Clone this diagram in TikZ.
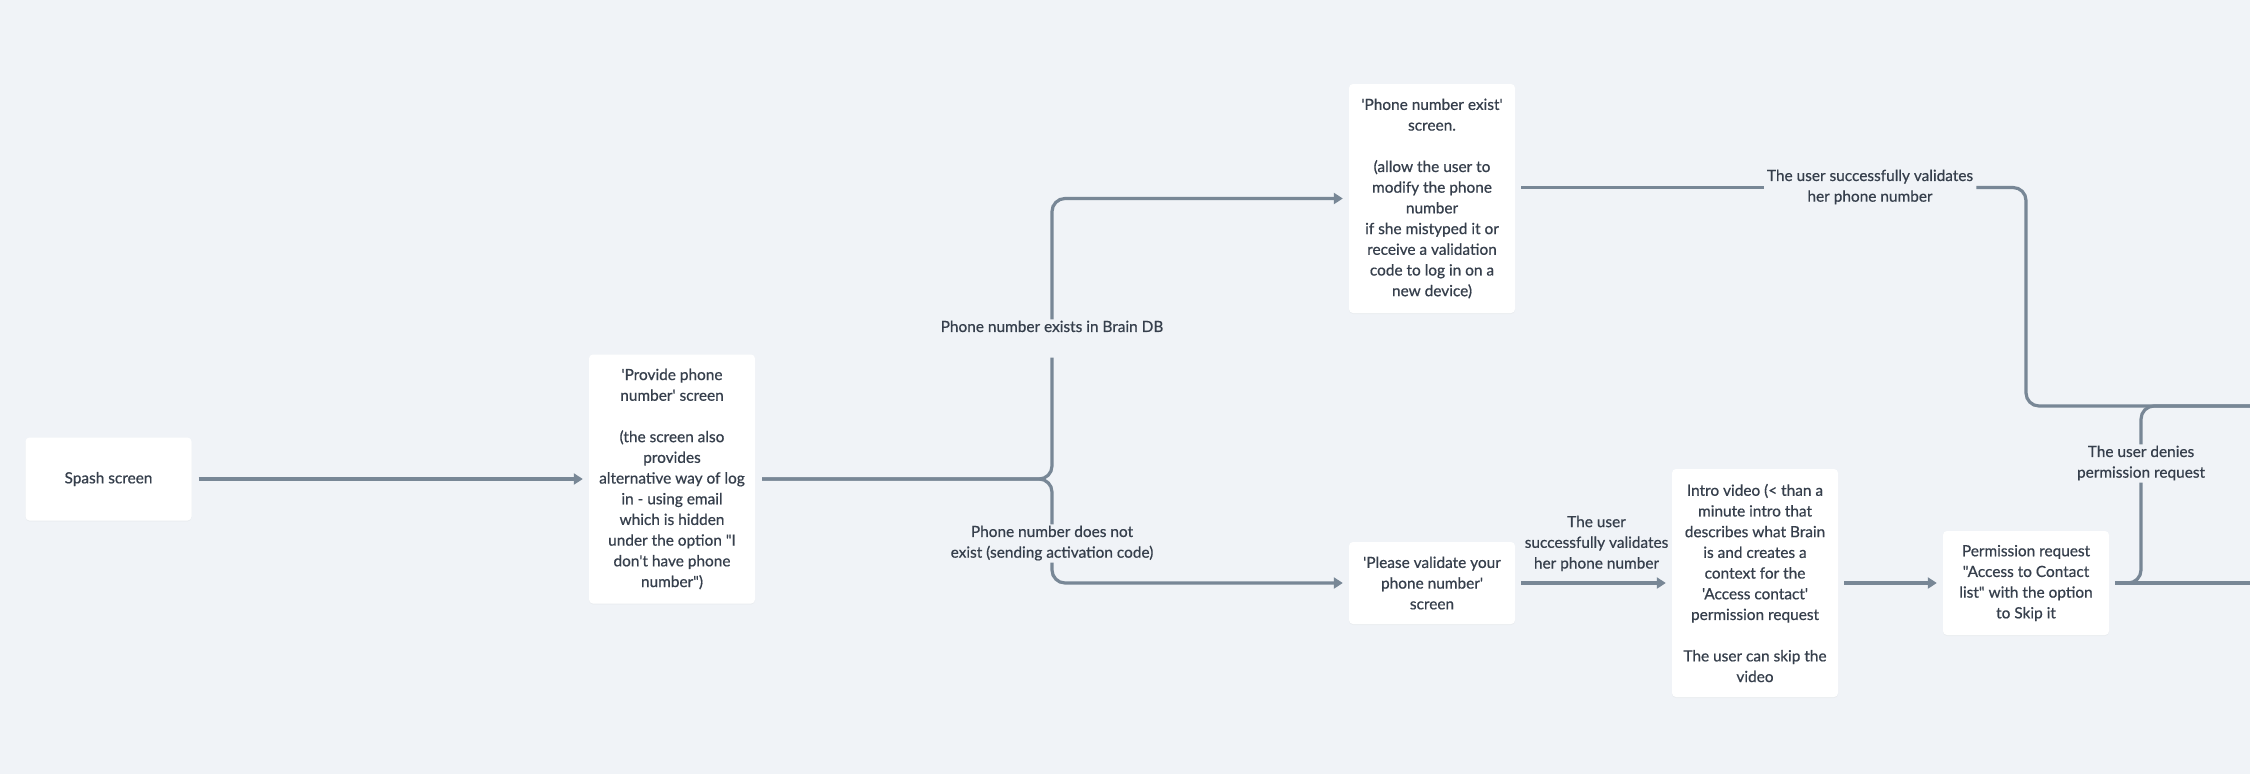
\documentclass[tikz,border=0pt]{standalone}
\usepackage{fontspec}
\newfontfamily\uifont{Lato}[FakeBold=0.6]
\usetikzlibrary{arrows.meta,shadows,calc}
\definecolor{bgc}{HTML}{F0F3F7}
\definecolor{linec}{HTML}{788796}
\definecolor{txtc}{HTML}{363F4C}
\newcommand{\lblstrut}{\rule[-3.7pt]{0pt}{21.2pt}}
\begin{document}
\begin{tikzpicture}[x=1pt,y=-1pt,
  every node/.style={font=\uifont\fontsize{15.4}{20.7}\selectfont, text=txtc, align=center},
  box/.style={fill=white, rounded corners=4pt, minimum width=166pt, inner sep=0pt,
    drop shadow={opacity=0.05, shadow xshift=0pt, shadow yshift=-1pt}},
  lbl/.style={inner xsep=3pt, inner ysep=1pt, execute at begin node=\lblstrut, execute at end node=\lblstrut},
  conn/.style={draw=linec, line width=3.2pt, rounded corners=13pt},
  arr/.style={conn, -{Triangle[length=9pt,width=11pt]}, shorten >=6pt},
]
\useasboundingbox[fill=bgc] (0,0) rectangle (2250,774);

% boxes
\node[box, minimum height=83pt] (splash) at (108.5,479) {Spash screen};
\node[box, minimum height=249pt] (provide) at (672,479) {'Provide phone\\number' screen\\[20.7pt](the screen also\\provides\\alternative way of log\\in - using email\\which is hidden\\under the option "I\\don't have phone\\number")};
\node[box, minimum height=229pt] (exist) at (1432,198.5) {'Phone number exist'\\screen.\\[20.7pt](allow the user to\\modify the phone\\number\\if she mistyped it or\\receive a validation\\code to log in on a\\new device)};
\node[box, minimum height=82pt] (validate) at (1432,583) {'Please validate your\\phone number'\\screen};
\node[box, minimum height=228pt] (intro) at (1755,583) {Intro video (< than a\\minute intro that\\describes what Brain\\is and creates a\\context for the\\'Access contact'\\permission request\\[20.7pt]The user can skip the\\video};
\node[box, minimum height=104pt] (perm) at (2026,583) {Permission request\\"Access to Contact\\list" with the option\\to Skip it};

% labels interrupting connectors
\node[lbl] (L1) at (1052,338.5) {Phone number exists in Brain DB\\};
\node[lbl] (L2) at (1052,543.5) {Phone number does not\\exist (sending activation code)};
\node[lbl] (L3) at (2141,463.5) {The user denies\\permission request};
\node[lbl] (L4) at (1870,187.5) {The user successfully validates\\her phone number};

\coordinate (jn) at (1052,479);
\coordinate (out1) at (2250,406);
\coordinate (out2) at (2250,583);

% connectors
\draw[arr] ([xshift=7pt]splash.east) -- (provide.west);
\draw[conn] ([xshift=7pt]provide.east) -- (jn) -- (L1.south);
\draw[conn] ([xshift=7pt]provide.east) -- (jn) -- (L2.north);
\draw[arr] (L1.north) |- (exist.west);
\draw[arr] (L2.south) |- (validate.west);
\draw[conn] ([xshift=6pt]exist.east |- L4.west) -- (L4.west);
\draw[conn] (L4.east) -- (L4.east -| perm) -- (perm |- out1) -- (out1);
\draw[arr] ([xshift=6pt]validate.east) -- node[lbl, yshift=39pt] {The user\\successfully validates\\her phone number} (intro.west);
\draw[arr] ([xshift=6pt]intro.east) -- (perm.west);
\draw[conn] ([xshift=6pt]perm.east) -- (out2);
\draw[conn] ([xshift=6pt]perm.east) -- (L3.south |- out2) -- (L3.south);
\draw[conn] (L3.north) -- (L3.north |- out1) -- (out1);
\end{tikzpicture}
\end{document}
